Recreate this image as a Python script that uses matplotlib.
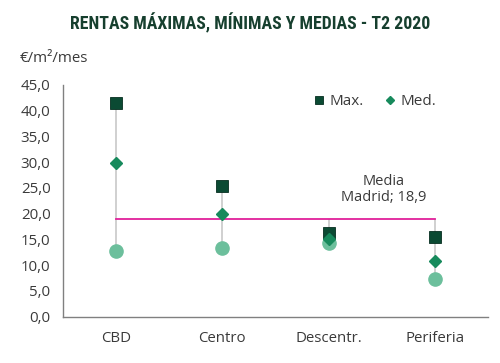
import matplotlib
matplotlib.use("Agg")
import matplotlib.pyplot as plt
from matplotlib.ticker import FuncFormatter

categories = ["CBD", "Centro", "Descentr.", "Periferia"]
max_vals = [41.5, 25.4, 16.3, 15.5]
med_vals = [29.8, 19.9, 15.0, 10.8]
min_vals = [12.8, 13.3, 14.3, 7.3]
media_madrid = 18.9

plt.rcParams["font.family"] = ["Open Sans", "DejaVu Sans"]
txt = "#3a3a3a"

fig = plt.figure(figsize=(5.0, 3.63), dpi=100)
ax = fig.add_axes([0.126, 0.1275, 0.85, 0.6385])

x = list(range(len(categories)))
for i in x:
    lo = min(min_vals[i], media_madrid, med_vals[i])
    hi = max(max_vals[i], media_madrid)
    ax.vlines(i, lo, hi, color="#c8c8c8", lw=1.2, zorder=1)

ax.plot([x[0], x[-1]], [media_madrid, media_madrid], color="#e0209a", lw=1.3, zorder=2)

ax.plot(x, min_vals, "o", ls="none", color="#6cbf9c", ms=9.5, zorder=3)
ax.plot(x, max_vals, "s", ls="none", color="#0b4a33", mec="#062e20", mew=0.6, ms=8.5, zorder=4, label="Max.")
ax.plot(x, med_vals, "D", ls="none", color="#178a5c", ms=6.5, zorder=5, label="Med.")

ax.set_xlim(-0.5, 3.5)
ax.set_ylim(0, 45)
ax.set_yticks([0, 5, 10, 15, 20, 25, 30, 35, 40, 45])
ax.yaxis.set_major_formatter(FuncFormatter(lambda v, p: f"{v:.1f}".replace(".", ",")))
ax.set_xticks(x)
ax.set_xticklabels(categories)
ax.tick_params(axis="both", length=0, labelsize=10.8, colors=txt)
ax.tick_params(axis="x", pad=10)
ax.tick_params(axis="y", pad=9)
for s in ["top", "right"]:
    ax.spines[s].set_visible(False)
for s in ["left", "bottom"]:
    ax.spines[s].set_color("#808080")
    ax.spines[s].set_linewidth(1.0)

ax.text(2.52, 21.6, "Media\nMadrid; 18,9", ha="center", va="bottom", fontsize=10.5,
        color=txt, linespacing=1.1)

leg = ax.legend(loc="upper right", bbox_to_anchor=(0.91, 1.02), ncol=2, frameon=False,
                fontsize=11, handletextpad=0.2, columnspacing=1.2, markerscale=0.6,
                handlelength=1.0)
for t in leg.get_texts():
    t.set_color(txt)

fig.text(0.04, 0.84, "€/m²/mes", fontsize=10.8, color=txt, va="center")
fig.text(0.5, 0.937, "RENTAS MÁXIMAS, MÍNIMAS Y MEDIAS - T2 2020", ha="center", va="center",
         fontsize=12.8, fontweight="bold", color="#163f2e",
         family=["Roboto Condensed", "Roboto", "DejaVu Sans"])

fig.savefig("out.png", dpi=100)
